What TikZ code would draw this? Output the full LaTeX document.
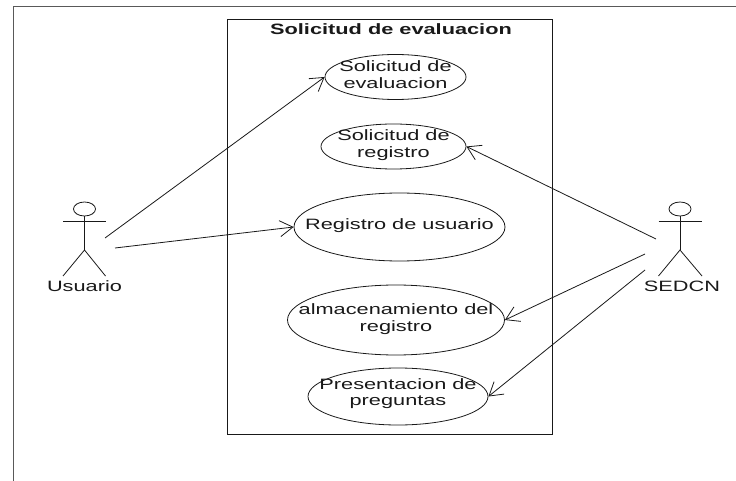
\documentclass[tikz,border=0pt]{standalone}
\usepackage{fontspec}
\setmainfont[FakeStretch=1.45]{Liberation Sans}
\usetikzlibrary{arrows.meta,shapes.geometric}
\tikzset{
  usecase/.style={shape=ellipse,draw,inner sep=0pt},
  uctext/.style={inner sep=0pt,align=center,font=\fontsize{15}{16.5}\selectfont},
  actorhead/.style={shape=ellipse,draw,inner sep=0pt,minimum width=22pt,minimum height=14pt},
  actorname/.style={inner sep=0pt,font=\fontsize{15}{17}\selectfont},
  assoc/.style={->,line width=0.8pt}
}
\begin{document}
\begin{tikzpicture}[x=1pt,y=-1pt,>={Straight Barb[length=13pt,width=16pt]},line width=0.8pt,color=black!90]
\useasboundingbox (0,0) rectangle (736,481);
\coordinate (framebl) at (13.5,481);
\coordinate (frametl) at (13.5,6.5);
\coordinate (frametr) at (736,6.5);
\draw [black!65,line width=1pt] (framebl) -- (frametl) -- (frametr);
\node (system) at (390,227) [shape=rectangle,draw,minimum width=325pt,minimum height=415pt] {};
\node (title) at (391,29) [inner sep=0pt,font=\bfseries\fontsize{15}{17}\selectfont] {Solicitud de evaluacion};
\node (uc1) at (395.5,77)  [usecase,minimum width=141pt,minimum height=45pt,label={[uctext,yshift=2.5pt]center:Solicitud de\\evaluacion}] {};
\node (uc2) at (393.5,146.5) [usecase,minimum width=145pt,minimum height=45pt,label={[uctext,yshift=1.5pt]center:Solicitud de\\registro}] {};
\node (uc3) at (399.5,227) [usecase,minimum width=211pt,minimum height=68pt,label={[uctext,yshift=1pt]center:Registro de usuario}] {};
\node (uc4) at (396,320)   [usecase,minimum width=217pt,minimum height=70pt,label={[uctext,yshift=1pt]center:almacenamiento del\\registro}] {};
\node (uc5) at (398,396.5) [usecase,minimum width=180pt,minimum height=57pt,label={[uctext,yshift=3pt]center:Presentacion de\\preguntas}] {};
% actor izquierdo
\node (head1) at (84.5,209) [actorhead] {};
\coordinate (armL1) at (63,221.5);
\coordinate (armR1) at (105.5,221.5);
\coordinate (hip1) at (84.5,250);
\coordinate (footL1) at (63,276);
\coordinate (footR1) at (105.5,276);
\draw (armL1) -- (armR1);
\draw (head1) -- (hip1);
\draw (footL1) -- (hip1) -- (footR1);
\node (usuario) at (84.5,286) [actorname] {Usuario};
% actor derecho
\node (head2) at (680,209) [actorhead] {};
\coordinate (armL2) at (658.5,221.5);
\coordinate (armR2) at (702,221.5);
\coordinate (hip2) at (680,250);
\coordinate (footL2) at (658.5,276);
\coordinate (footR2) at (702,276);
\draw (armL2) -- (armR2);
\draw (head2) -- (hip2);
\draw (footL2) -- (hip2) -- (footR2);
\node (sedcn) at (682,286) [actorname] {SEDCN};
% asociaciones
\coordinate (from1) at (105,238);
\coordinate (from2) at (115,248);
\coordinate (from3) at (656,239);
\coordinate (from4) at (645,254);
\coordinate (from5) at (645,270);
\draw [assoc] (from1) -- (uc1.west);
\draw [assoc] (from2) -- (uc3.west);
\draw [assoc] (from3) -- (uc2.east);
\draw [assoc] (from4) -- (uc4.east);
\draw [assoc] (from5) -- (uc5.east);
\end{tikzpicture}
\end{document}
